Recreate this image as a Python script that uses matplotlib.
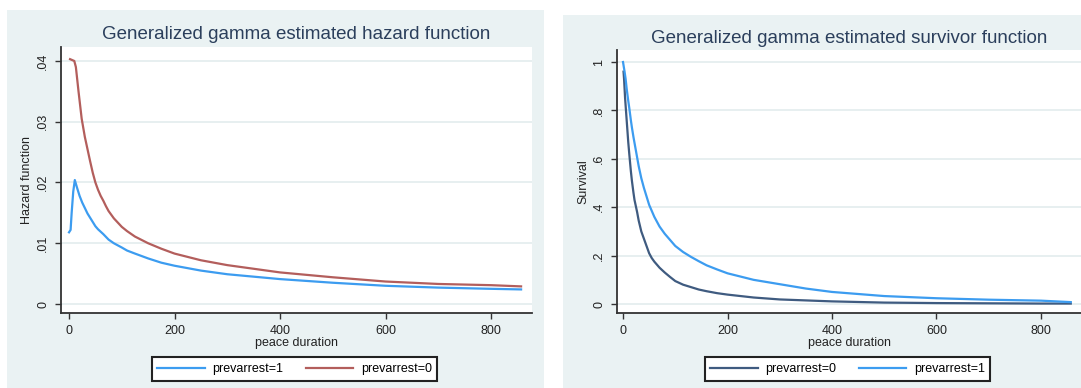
import matplotlib
matplotlib.use("Agg")
import matplotlib.pyplot as plt
from matplotlib.patches import Rectangle

plt.rcParams['font.family'] = ['Liberation Sans', 'DejaVu Sans']

# hazard function, generalized gamma
haz_t1 = [0, 3, 5, 8, 11, 15, 20, 25, 30, 35, 40, 45, 50, 55, 60, 65, 75, 85, 100, 110, 125, 150, 175,
          200, 250, 300, 400, 500, 600, 700, 800, 857]
haz_arr1 = [0.0118, 0.0122, 0.0150, 0.0185, 0.0204, 0.0192, 0.0178, 0.0167, 0.0158, 0.0149, 0.0142, 0.0135,
            0.0128, 0.0123, 0.0119, 0.0115, 0.0106, 0.0100, 0.0093, 0.0088, 0.0083, 0.0075, 0.0068,
            0.0063, 0.0055, 0.0049, 0.0041, 0.0035, 0.0030, 0.0027, 0.0025, 0.0024]
haz_t0 = [2, 10, 13, 18, 24, 30, 35, 40, 45, 50, 55, 60, 65, 70, 75, 85, 100, 110, 125, 150, 175,
          200, 250, 300, 400, 500, 600, 700, 800, 857]
haz_arr0 = [0.0403, 0.0400, 0.0390, 0.0350, 0.0305, 0.0275, 0.0255, 0.0235, 0.0216, 0.0200, 0.0188, 0.0178,
            0.0170, 0.0161, 0.0153, 0.0141, 0.0127, 0.0120, 0.0111, 0.0100, 0.0091,
            0.0083, 0.0072, 0.0064, 0.0052, 0.0044, 0.0037, 0.0033, 0.0031, 0.0029]

# survivor function
surv_t0 = [1, 2, 4, 6, 8, 10, 12, 15, 17, 20, 22, 25, 27, 30, 35, 40, 45, 50, 55, 60, 70, 80, 90, 100,
           115, 130, 145, 160, 180, 200, 250, 300, 400, 500, 600, 700, 800, 857]
surv_arr0 = [0.96, 0.93, 0.85, 0.79, 0.73, 0.67, 0.62, 0.55, 0.51, 0.46, 0.43, 0.40, 0.38, 0.345, 0.30,
             0.27, 0.24, 0.21, 0.19, 0.175, 0.15, 0.13, 0.112, 0.095, 0.08, 0.07, 0.06, 0.053, 0.045,
             0.039, 0.027, 0.019, 0.011, 0.006, 0.004, 0.003, 0.002, 0.002]
surv_t1 = [0, 3, 5, 7, 10, 12, 15, 17, 20, 25, 30, 35, 40, 45, 50, 55, 60, 70, 80, 90, 100, 115, 130,
           145, 160, 180, 200, 250, 300, 350, 400, 500, 600, 700, 800, 857]
surv_arr1 = [1.0, 0.96, 0.93, 0.89, 0.84, 0.81, 0.76, 0.73, 0.69, 0.63, 0.57, 0.52, 0.48, 0.445, 0.41,
             0.385, 0.36, 0.32, 0.29, 0.265, 0.24, 0.215, 0.195, 0.177, 0.16, 0.143, 0.127, 0.10,
             0.082, 0.064, 0.050, 0.033, 0.024, 0.018, 0.014, 0.008]

xticks = [0, 200, 400, 600, 800]
haz_yticks = [0, 0.01, 0.02, 0.03, 0.04]
haz_ylabels = ['0', '.01', '.02', '.03', '.04']
surv_yticks = [0, 0.2, 0.4, 0.6, 0.8, 1]
surv_ylabels = ['0', '.2', '.4', '.6', '.8', '1']

BG = '#EAF2F3'
TITLE_C = '#2B3F5C'
BLUE = '#3C9CF0'
MAROON = '#B35E5C'
NAVY = '#3F5B80'

W, H = 1081, 388
fig = plt.figure(figsize=(W / 100, H / 100), dpi=100)
fig.patch.set_facecolor('white')

# graph regions (Stata style light background)
fig.add_artist(Rectangle((7 / W, 0), 537 / W, 378 / H, transform=fig.transFigure,
                         facecolor=BG, edgecolor='none', zorder=-1))
fig.add_artist(Rectangle((563 / W, 0), 518 / W, 373 / H, transform=fig.transFigure,
                         facecolor=BG, edgecolor='none', zorder=-1))


def style_axes(ax, title, ylabel, yticks, ylabels, width_px, height_px, title_pad):
    ax.set_facecolor('white')
    for s in ['top', 'right']:
        ax.spines[s].set_visible(False)
    for s in ['left', 'bottom']:
        ax.spines[s].set_color('#333333')
        ax.spines[s].set_linewidth(1.3)
    ax.set_xticks(xticks)
    ax.set_yticks(yticks)
    ax.set_yticklabels(ylabels)
    ax.tick_params(length=4, width=1, color='#333333', labelsize=9, labelcolor='#222222', pad=4.5)
    for lab in ax.get_yticklabels():
        lab.set_rotation(90)
        lab.set_va('center')
    ax.grid(axis='y', color='#E3ECEE', linewidth=1.2)
    ax.set_axisbelow(True)
    ax.set_title(title, fontsize=13.5, color=TITLE_C, pad=title_pad)
    ax.set_xlabel('peace duration', fontsize=9, color='#222222')
    ax.xaxis.set_label_coords(0.5, -24 / height_px)
    ax.set_ylabel(ylabel, fontsize=9, color='#222222')
    ax.yaxis.set_label_coords(-28 / width_px, 0.5)


# left: hazard
ax1 = fig.add_axes([61 / W, 75 / H, 471 / W, 266 / H])
ax1.plot(haz_t1, haz_arr1, color=BLUE, lw=1.6, label='prevarrest=1')
ax1.plot(haz_t0, haz_arr0, color=MAROON, lw=1.6, label='prevarrest=0')
ax1.set_xlim(-15.2, 877.7)
ax1.set_ylim(-0.00148, 0.0423)
style_axes(ax1, 'Generalized gamma estimated hazard function', 'Hazard function',
           haz_yticks, haz_ylabels, 471, 266, 6)

# right: survivor
ax2 = fig.add_axes([617 / W, 75 / H, 464 / W, 263 / H])
ax2.plot(surv_t0, surv_arr0, color=NAVY, lw=1.6, label='prevarrest=0')
ax2.plot(surv_t1, surv_arr1, color=BLUE, lw=1.6, label='prevarrest=1')
ax2.set_xlim(-11.5, 876.6)
ax2.set_ylim(-0.037, 1.0496)
style_axes(ax2, 'Generalized gamma estimated survivor function', 'Survival',
           surv_yticks, surv_ylabels, 464, 263, 5)

for ax, cx in [(ax1, 294.5), (ax2, 847.5)]:
    leg = ax.legend(loc='center', bbox_to_anchor=(cx / W, 19 / H), bbox_transform=fig.transFigure,
                    ncol=2, fontsize=9, frameon=True, fancybox=False, framealpha=1,
                    edgecolor='#222222', handlelength=3.8, handletextpad=0.6,
                    columnspacing=1.8, borderpad=0.45, borderaxespad=0)
    leg.get_frame().set_linewidth(1.5)

fig.savefig('out.png', dpi=100)
